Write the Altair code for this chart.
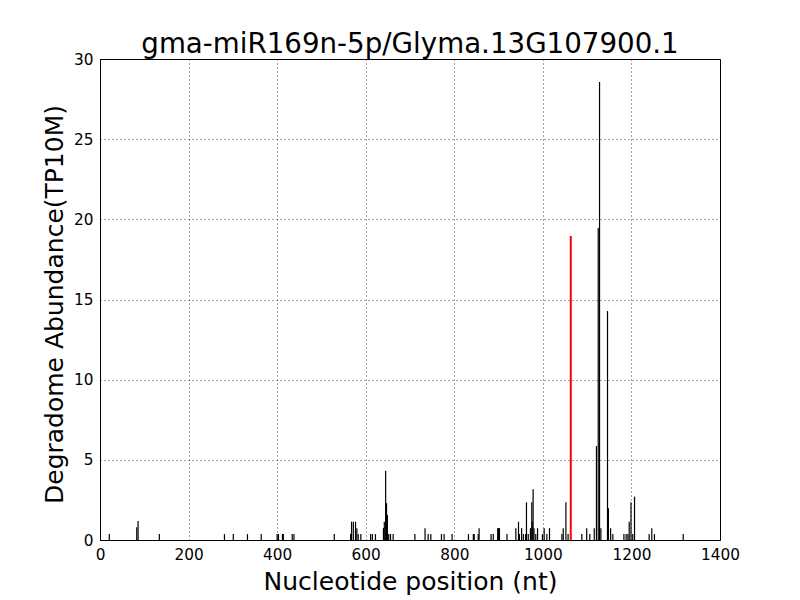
import altair as alt
import pandas as pd

positions = [21, 83, 86, 134, 281, 301, 333, 364, 400, 403, 412, 414, 434, 438, 529,
             566, 568, 572, 577, 580, 583, 589, 611, 615, 622, 640, 642, 645, 647, 649,
             652, 656, 662, 711, 734, 741, 747, 771, 777, 795, 832, 843, 845, 854, 856,
             883, 888, 898, 900, 902, 919, 939, 945, 947, 952, 956, 961, 963, 967, 972,
             975, 976, 978, 980, 984, 988, 999, 1003, 1009, 1015, 1043, 1046, 1052, 1057,
             1088, 1099, 1106, 1116, 1121, 1125, 1128, 1131, 1146, 1148, 1153, 1158, 1183,
             1188, 1192, 1195, 1199, 1203, 1207, 1240, 1246, 1252, 1317]
abundance = [0.37, 0.79, 1.18, 0.37, 0.37, 0.37, 0.37, 0.37, 0.37, 0.37, 0.37, 0.37, 0.37, 0.37, 0.37,
             0.37, 1.14, 1.14, 1.14, 0.74, 0.37, 0.37, 0.37, 0.37, 0.37, 0.74, 1.14, 4.32, 2.3, 1.56,
             0.37, 0.37, 0.37, 0.37, 0.74, 0.37, 0.37, 0.37, 0.37, 0.37, 0.37, 0.37, 0.37, 0.37, 0.74,
             0.37, 0.37, 0.74, 0.74, 0.74, 0.37, 0.74, 1.14, 0.37, 0.74, 0.37, 0.37, 2.35, 0.37, 0.74,
             2.35, 1.14, 3.16, 0.74, 0.37, 0.74, 0.37, 0.74, 0.37, 0.74, 0.37, 0.74, 2.35, 0.37,
             0.37, 0.74, 0.37, 0.74, 5.86, 19.46, 28.57, 0.74, 14.28, 1.98, 0.74, 0.37, 0.37,
             0.37, 0.37, 1.14, 2.35, 0.37, 2.7, 0.37, 0.74, 0.37, 0.37]

target_position = [1063]
target_abundance = [18.96]

x_ticks = [0, 200, 400, 600, 800, 1000, 1200, 1400]
y_ticks = [0, 5, 10, 15, 20, 25, 30]

df = pd.DataFrame({"pos": positions, "val": abundance})
df_t = pd.DataFrame({"pos": target_position, "val": target_abundance})

FONT = "DejaVu Sans"

x_enc = alt.X("pos:Q", scale=alt.Scale(domain=[0, 1400], nice=False),
              axis=alt.Axis(values=x_ticks, title="Nucleotide position (nt)", format="d",
                            grid=True, gridColor="#000", gridDash=[1, 3], gridWidth=0.7,
                            domain=False, ticks=False, labelFont=FONT, labelFontSize=15.3,
                            labelColor="#000", labelPadding=7, labelFlush=False,
                            titleFont=FONT, titleFontSize=25, titleFontWeight="normal",
                            titleColor="#000", titleBaseline="alphabetic", titleY=49,
                            titleX=310, titleAlign="center"))
y_enc = alt.Y("val:Q", scale=alt.Scale(domain=[0, 30], nice=False),
              axis=alt.Axis(values=y_ticks, title="Degradome Abundance(TP10M)",
                            grid=True, gridColor="#000", gridDash=[1, 3], gridWidth=0.7,
                            domain=False, ticks=False, labelFont=FONT, labelFontSize=15.3,
                            labelColor="#000", labelPadding=7, labelFlush=False,
                            titleFont=FONT, titleFontSize=25, titleFontWeight="normal",
                            titleColor="#000", titleBaseline="alphabetic", titleX=-38,
                            titleY=245, titleAlign="center", titleAngle=-90))

bars = alt.Chart(df).mark_rule(color="black", strokeWidth=1.2).encode(
    x=x_enc, y=y_enc, y2=alt.datum(0)
)
target = alt.Chart(df_t).mark_rule(color="#ff0000", strokeWidth=2).encode(
    x="pos:Q", y="val:Q", y2=alt.datum(0)
)

chart = alt.layer(bars, target).properties(
    width=620, height=481,
    autosize=alt.AutoSizeParams(type="none"),
    padding={"left": 92, "top": 51, "right": 60, "bottom": 62},
    title=alt.TitleParams("gma-miR169n-5p/Glyma.13G107900.1", font=FONT, fontSize=27.7,
                          fontWeight="normal", color="#000", anchor="middle",
                          baseline="alphabetic", offset=6, frame="group", dy=35),
    background="white",
).configure_view(stroke="black", strokeWidth=1)

chart.save("out.html", embed_options={"renderer": "svg", "actions": False})
